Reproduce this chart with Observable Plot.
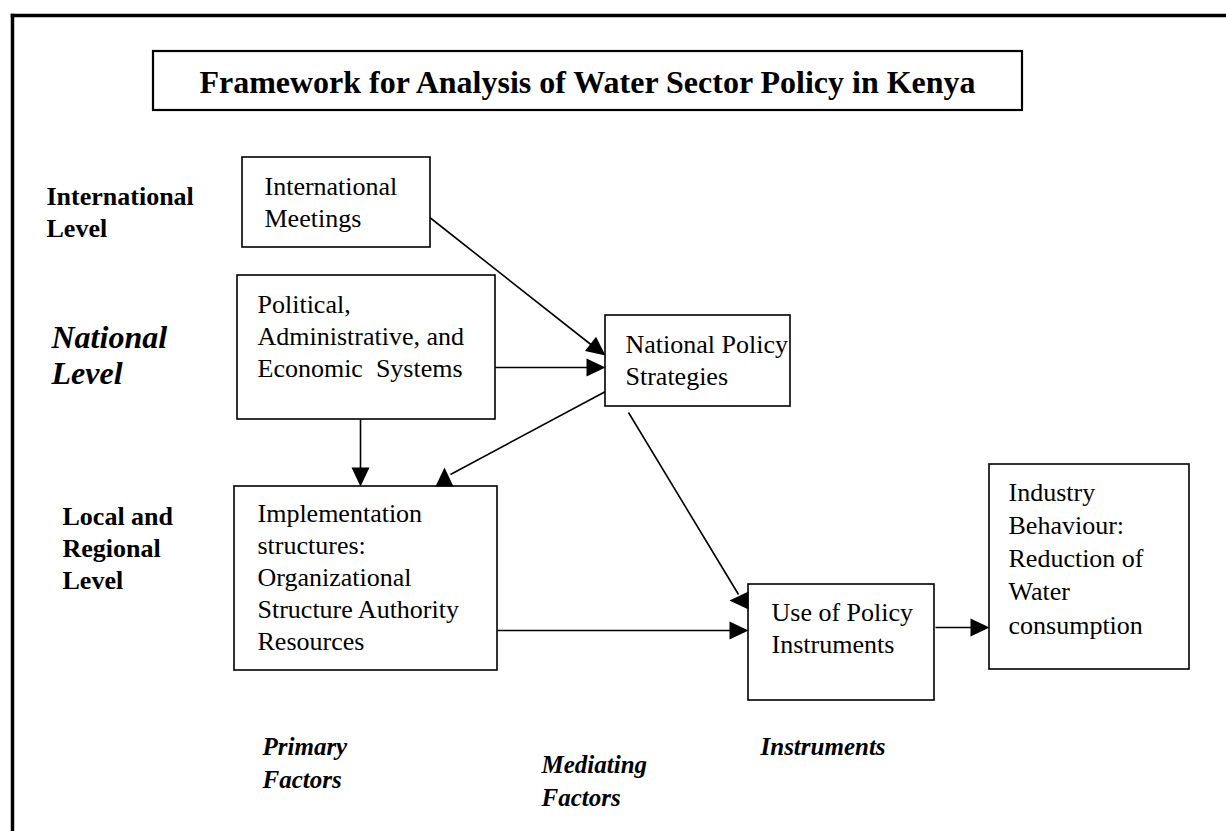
<!DOCTYPE html>
<html>
<head>
<meta charset="utf-8">
<script src="https://cdn.jsdelivr.net/npm/d3@7"></script>
<script src="https://cdn.jsdelivr.net/npm/@observablehq/plot@0.6"></script>
<style>
  html, body { margin: 0; padding: 0; background: #fff; }
  svg { display: block; overflow: hidden; }
</style>
</head>
<body>
<div id="chart"></div>
<script>
// ---- Diagram data (pixel-space coordinates of the framework) ----
const frame = [
  {x1: 12, y1: 15, x2: 1226, y2: 15},
  {x1: 12, y1: 15, x2: 12, y2: 831}
];

const titleBox = [{x1: 153, y1: 51, x2: 1022, y2: 110}];
const title = [{text: "Framework for Analysis of Water Sector Policy in Kenya", x: 587, y: 92}];

const boxes = [
  {id: "intl",      x1: 242, y1: 157, x2: 430,  y2: 247},
  {id: "political", x1: 237, y1: 275, x2: 495,  y2: 419},
  {id: "national",  x1: 605, y1: 315, x2: 790,  y2: 406},
  {id: "impl",      x1: 234, y1: 486, x2: 497,  y2: 670},
  {id: "use",       x1: 748, y1: 584, x2: 934,  y2: 700},
  {id: "industry",  x1: 989, y1: 464, x2: 1189, y2: 669}
];

const boxTexts = [
  {text: "International\nMeetings", x: 264, y: 226},
  {text: "Political,\nAdministrative, and\nEconomic\u00a0 Systems", x: 257, y: 376},
  {text: "National Policy\nStrategies", x: 625, y: 384},
  {text: "Implementation\nstructures:\nOrganizational\nStructure Authority\nResources", x: 257, y: 649},
  {text: "Use of Policy\nInstruments", x: 771, y: 652}
];
const industryText = [
  {text: "Industry\nBehaviour:\nReduction of\nWater\nconsumption", x: 1008, y: 633}
];

const links = [
  {x1: 428, y1: 216, x2: 598, y2: 350},
  {x1: 495, y1: 367, x2: 590, y2: 367},
  {x1: 605, y1: 391, x2: 450, y2: 474},
  {x1: 360, y1: 419, x2: 360, y2: 472},
  {x1: 628, y1: 412, x2: 738, y2: 594},
  {x1: 497, y1: 630, x2: 735, y2: 630},
  {x1: 935, y1: 627, x2: 975, y2: 627}
];

const heads = [
  {x: 605, y: 355, angle: 128},
  {x: 605, y: 367, angle: 90},
  {x: 444, y: 467, angle: 0},
  {x: 360, y: 486, angle: 180},
  {x: 729, y: 600, angle: 270},
  {x: 748, y: 630, angle: 90},
  {x: 989, y: 627, angle: 90}
];

const levelLabels = [
  {text: "International\nLevel", x: 46, y: 236},
  {text: "Local and\nRegional\nLevel", x: 62, y: 588}
];
const nationalLabel = [{text: "National\nLevel", x: 51, y: 383}];

const factorLabels = [
  {text: "Primary\nFactors", x: 262, y: 787},
  {text: "Mediating\nFactors", x: 541, y: 805},
  {text: "Instruments", x: 760, y: 754}
];

// ---- Arrowhead symbol: apex at origin, pointing up ----
const arrowHead = {
  draw(context) {
    context.moveTo(0, 0);
    context.lineTo(-9, 19);
    context.lineTo(9, 19);
    context.closePath();
  }
};

const serif = "'Liberation Serif', 'Times New Roman', Times, serif";

const chart = Plot.plot({
  width: 1226,
  height: 831,
  margin: 0,
  x: {domain: [0, 1226], range: [0, 1226], axis: null},
  y: {domain: [0, 831], range: [0, 831], axis: null},
  style: {background: "#fff"},
  marks: [
    Plot.link(frame, {x1: "x1", y1: "y1", x2: "x2", y2: "y2", stroke: "black", strokeWidth: 3.5, strokeLinecap: "square"}),
    Plot.rect(titleBox, {x1: "x1", y1: "y1", x2: "x2", y2: "y2", fill: "white", stroke: "black", strokeWidth: 2.2}),
    Plot.text(title, {x: "x", y: "y", text: "text", textAnchor: "middle", lineAnchor: "bottom",
      fontFamily: serif, fontWeight: "bold", fontSize: 32, fill: "black"}),
    Plot.link(links, {x1: "x1", y1: "y1", x2: "x2", y2: "y2", stroke: "black", strokeWidth: 1.6}),
    Plot.rect(boxes, {x1: "x1", y1: "y1", x2: "x2", y2: "y2", fill: "white", stroke: "black", strokeWidth: 1.6}),
    Plot.dot(heads, {x: "x", y: "y", rotate: "angle", symbol: arrowHead, fill: "black", stroke: "none"}),
    Plot.text(boxTexts, {x: "x", y: "y", text: "text", textAnchor: "start", lineAnchor: "bottom",
      lineHeight: 1.23, fontFamily: serif, fontSize: 26, fill: "black"}),
    Plot.text(industryText, {x: "x", y: "y", text: "text", textAnchor: "start", lineAnchor: "bottom",
      lineHeight: 1.27, fontFamily: serif, fontSize: 26, fill: "black"}),
    Plot.text(levelLabels, {x: "x", y: "y", text: "text", textAnchor: "start", lineAnchor: "bottom",
      lineHeight: 1.22, fontFamily: serif, fontWeight: "bold", fontSize: 26, fill: "black"}),
    Plot.text(nationalLabel, {x: "x", y: "y", text: "text", textAnchor: "start", lineAnchor: "bottom",
      lineHeight: 1.1, fontFamily: serif, fontWeight: "bold", fontStyle: "italic", fontSize: 32, fill: "black"}),
    Plot.text(factorLabels, {x: "x", y: "y", text: "text", textAnchor: "start", lineAnchor: "bottom",
      lineHeight: 1.32, fontFamily: serif, fontWeight: "bold", fontStyle: "italic", fontSize: 25, fill: "black"})
  ]
});

document.getElementById("chart").appendChild(chart);
</script>
</body>
</html>
